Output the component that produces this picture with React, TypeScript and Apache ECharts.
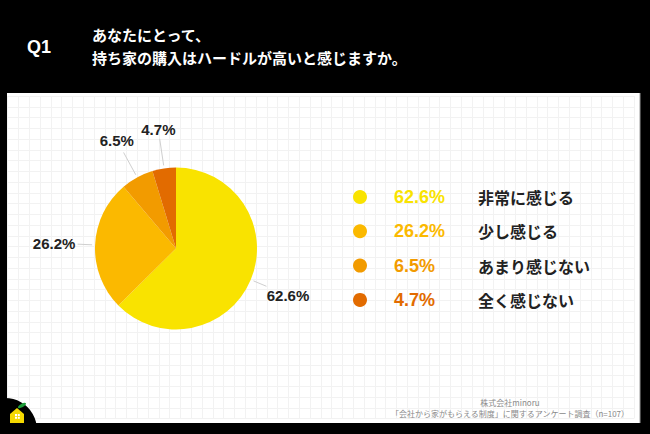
import React, { useEffect, useRef } from "react";
import * as echarts from "echarts";

const categories = ["非常に感じる", "少し感じる", "あまり感じない", "全く感じない"];
const values = [62.6, 26.2, 6.5, 4.7];
const colors = ["#F9E300", "#FBB900", "#F29B00", "#E26B00"];
const titleQ = "Q1";
const titleLines = ["あなたにとって、", "持ち家の購入はハードルが高いと感じますか。"];
const footerLines = ["株式会社minoru", "「会社から家がもらえる制度」に関するアンケート調査（n=107）"];

const LATIN = "'Liberation Sans', Arial, 'Noto Sans CJK JP', sans-serif";
const JP = "'Noto Sans CJK JP', sans-serif";

export default function App() {
  const ref = useRef<HTMLDivElement>(null);
  useEffect(() => {
    if (!ref.current) return;
    const chart = echarts.init(ref.current, undefined, { renderer: "svg" });
    const rich: any = {
      n: { fontSize: 16, fontWeight: "bold", color: "#222", fontFamily: JP, lineHeight: 20 },
    };
    colors.forEach((c, i) => {
      rich["p" + i] = { fontSize: 18, fontWeight: "bold", color: c, fontFamily: LATIN, width: 84, lineHeight: 20 };
    });
    const option: any = {
      animation: false,
      backgroundColor: "#000",
      color: colors,
      grid: { left: 7.6, top: 96, width: 58 * 10.8, height: 30 * 10.75, containLabel: false },
      xAxis: {
        type: "value", min: 0, max: 58, interval: 1,
        axisLine: { show: false }, axisTick: { show: false }, axisLabel: { show: false },
        splitLine: { show: true, lineStyle: { color: "#f2f2f2", width: 1 } },
      },
      yAxis: {
        type: "value", min: 0, max: 30, interval: 1,
        axisLine: { show: false }, axisTick: { show: false }, axisLabel: { show: false },
        splitLine: { show: true, lineStyle: { color: "#f2f2f2", width: 1 } },
      },
      legend: {
        orient: "vertical",
        left: 348,
        top: 183,
        icon: "circle",
        itemWidth: 14,
        itemHeight: 14,
        itemGap: 16.3,
        selectedMode: false,
        data: categories,
        formatter: (name: string) => {
          const i = categories.indexOf(name);
          return `{p${i}|${values[i].toFixed(1)}%}{n|${name}}`;
        },
        textStyle: { padding: [0, 0, 0, 22], rich },
      },
      series: [
        {
          type: "pie",
          center: [176, 248.5],
          radius: 81,
          startAngle: 90,
          clockwise: true,
          avoidLabelOverlap: false,
          data: categories.map((name, i) => ({ name, value: values[i] })),
          label: {
            show: true,
            position: "outside",
            formatter: (p: any) => `${p.value.toFixed(1)}%`,
            fontSize: 15,
            fontWeight: "bold",
            color: "#222",
            fontFamily: LATIN,
          },
          labelLine: { show: true, length: 14, length2: 0, lineStyle: { color: "#cfcfcf", width: 1 } },
          labelLayout: (params: any) => {
            const pts = params.labelLinePoints;
            if (!pts) return {};
            const p0 = pts[0];
            const p1 = pts[1];
            const dx = p1[0] - p0[0];
            const dy = p1[1] - p0[1];
            const len = Math.hypot(dx, dy) || 1;
            const ux = dx / len;
            const uy = dy / len;
            const L = 14 + 13 * Math.max(0, -uy);
            const s = [p0[0] + ux * 3, p0[1] + uy * 3];
            const e = [p0[0] + ux * (3 + L), p0[1] + uy * (3 + L)];
            const w = params.labelRect.width;
            const h = params.labelRect.height;
            const off = Math.abs(ux) * w / 2 + Math.abs(uy) * h * 0.3 + 2;
            return {
              x: e[0] + ux * off,
              y: e[1] + uy * off,
              align: "center",
              verticalAlign: "middle",
              labelLinePoints: [s, e, e],
            };
          },
          emphasis: { disabled: true },
        },
      ],
      graphic: [
        { type: "rect", z: -10, shape: { x: 7, y: 93, width: 633, height: 330 }, style: { fill: "#fff" } },
        { type: "line", z: 5, shape: { x1: 640, y1: 93, x2: 640, y2: 423 }, style: { stroke: "#9a9a9a", lineWidth: 1 } },
        {
          type: "text", z: 5, x: 27, y: 47,
          style: { text: titleQ, fill: "#fff", fontSize: 18, fontWeight: "bold", fontFamily: LATIN, textAlign: "left", textVerticalAlign: "middle", align: "left", verticalAlign: "middle" },
        },
        {
          type: "text", z: 5, x: 92, y: 34,
          style: { text: titleLines[0], fill: "#fff", fontSize: 15, fontWeight: "bold", fontFamily: JP, textAlign: "left", textVerticalAlign: "middle", align: "left", verticalAlign: "middle" },
        },
        {
          type: "text", z: 5, x: 92, y: 57,
          style: { text: titleLines[1], fill: "#fff", fontSize: 15, fontWeight: "bold", fontFamily: JP, textAlign: "left", textVerticalAlign: "middle", align: "left", verticalAlign: "middle" },
        },
        {
          type: "text", z: 5, x: 510, y: 402,
          style: { text: footerLines[0], fill: "#8a8a8a", fontSize: 8, fontFamily: JP, textAlign: "center", textVerticalAlign: "middle", align: "center", verticalAlign: "middle" },
        },
        {
          type: "text", z: 5, x: 510, y: 413,
          style: { text: footerLines[1], fill: "#8a8a8a", fontSize: 8, fontFamily: JP, textAlign: "center", textVerticalAlign: "middle", align: "center", verticalAlign: "middle" },
        },
        { type: "circle", z: 10, shape: { cx: 5, cy: 430, r: 32 }, style: { fill: "#000" } },
        {
          type: "polygon", z: 11,
          shape: { points: [[10, 414], [17, 408], [24, 414], [24, 423], [10, 423]] },
          style: { fill: "#F5D800" },
        },
        { type: "rect", z: 12, shape: { x: 15, y: 414, width: 2, height: 2 }, style: { fill: "#fff" } },
        { type: "rect", z: 12, shape: { x: 17.8, y: 414, width: 2, height: 2 }, style: { fill: "#fff" } },
        { type: "rect", z: 12, shape: { x: 15, y: 416.8, width: 2, height: 2 }, style: { fill: "#fff" } },
        { type: "rect", z: 12, shape: { x: 17.8, y: 416.8, width: 2, height: 2 }, style: { fill: "#fff" } },
        {
          type: "ellipse", z: 11, x: 22, y: 405.5, rotation: 0.5,
          shape: { cx: 0, cy: 0, rx: 4.5, ry: 1.8 },
          style: { fill: "#1E9E3A" },
        },
      ],
    };
    chart.setOption(option);
    return () => chart.dispose();
  }, []);
  return <div ref={ref} style={{ position: "absolute", left: 0, top: 0, width: 650, height: 434 }} />;
}
